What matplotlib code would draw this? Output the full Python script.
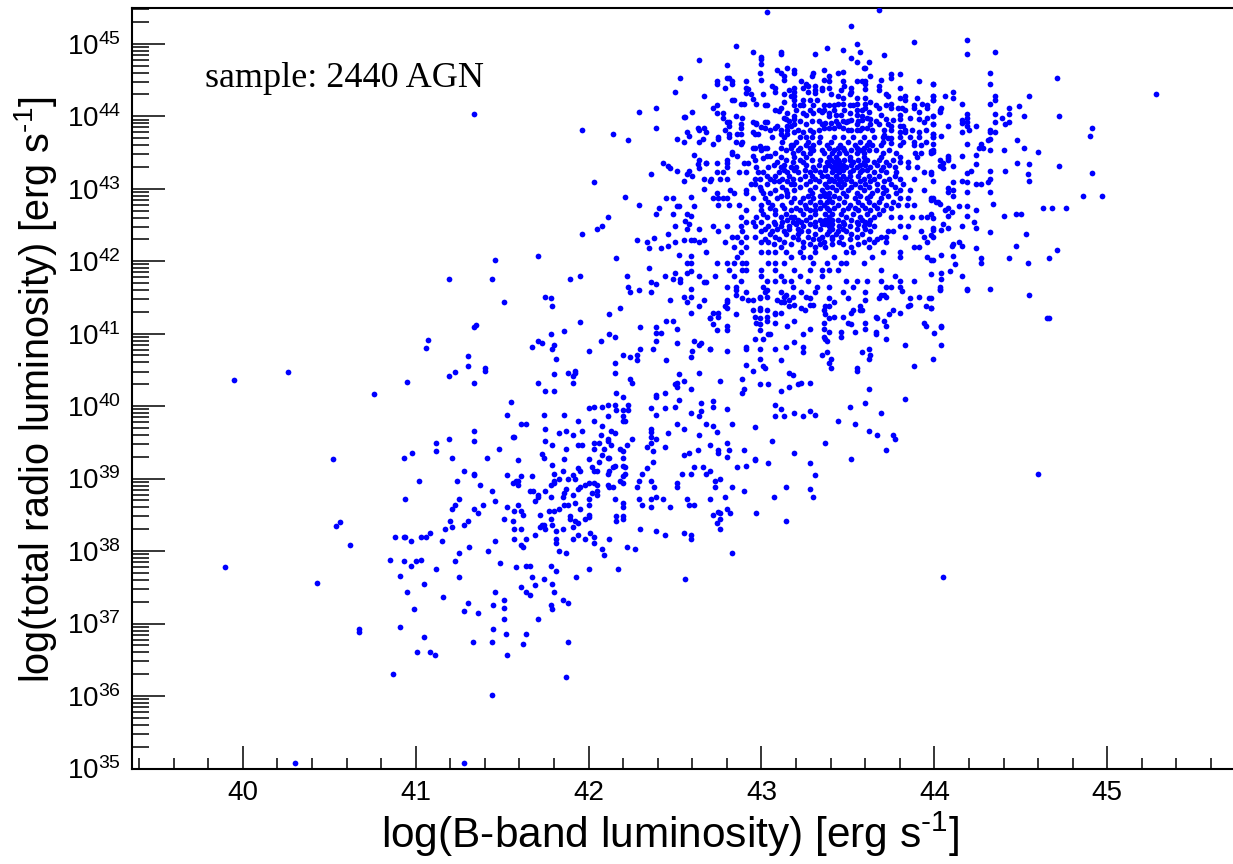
import matplotlib
matplotlib.use("Agg")
import matplotlib.pyplot as plt
from matplotlib.ticker import FixedLocator, NullFormatter, LogLocator

plt.rcParams['font.family'] = ['Liberation Sans', 'DejaVu Sans']
plt.rcParams['mathtext.fontset'] = 'custom'
plt.rcParams['mathtext.rm'] = 'Liberation Sans'
plt.rcParams['mathtext.default'] = 'rm'

# everything below is log10(L_B), log10(L_radio)
outliers = [(39.90,37.78),(39.95,40.36),(40.26,40.47),(40.76,40.17),(40.95,40.33),(40.30,35.07),(41.28,35.07),
            (40.43,37.56),(40.52,39.27),(40.54,38.34),(40.56,38.40),(40.62,38.08),(40.67,36.92),(40.67,36.88),
            (41.19,41.75),(41.07,40.91),(41.06,40.80),(41.19,40.41),(41.30,40.69),(41.30,40.55),(41.23,40.47),
            (42.56,37.61),(44.05,37.64),(44.60,39.07),(44.65,41.22),(45.28,44.30)]

low_mid = [(41.55,40.05),(41.53,39.88),(41.74,39.88),(41.86,39.88),(41.94,39.80),(42.0,39.97),(42.03,39.99),(42.08,39.99),
           (42.11,40.02),(42.15,40.02),(42.23,40.02),(42.36,39.97),(42.44,39.97),(42.50,39.99),(42.39,39.88),(42.16,39.94),
           (42.23,39.94),(42.2,39.94),(42.2,39.87),(42.2,39.80),(42.21,39.80),(42.11,39.86),(42.03,39.80),(41.61,39.75),
           (41.64,39.75),(41.75,39.69),(41.83,39.63),(41.87,39.66),(41.91,39.60),(41.96,39.66),(42.08,39.72),(42.07,39.60),
           (42.13,39.66),(42.15,39.63),(42.36,39.69),(42.36,39.64),(42.36,39.58),(42.46,39.63),(42.51,39.75),(41.34,39.66),
           (41.34,39.52),(41.19,39.55),(41.12,39.49),(41.12,39.38),(40.98,39.36),(40.93,39.29),(41.21,39.29),(41.41,39.29),
           (41.48,39.41),(41.56,39.58),(41.57,39.58),(41.75,39.52),(41.79,39.47),(41.94,39.47),(41.96,39.47),(42.03,39.49),
           (42.06,39.49),(42.11,39.55),(42.11,39.52),(42.13,39.47),(42.25,39.55),(42.22,39.47),(42.36,39.49),(42.34,39.44),
           (42.39,39.55),(42.44,39.44),(42.37,39.38),(41.87,39.41),(42.03,39.41),(42.09,39.41),(42.18,39.41),(42.2,39.38),
           (41.73,39.34),(41.74,39.29),(41.86,39.27),(42.0,39.27),(42.08,39.33),(42.11,39.29),(42.12,39.29),(42.2,39.29),
           (41.59,39.25),(42.06,39.23),(42.37,39.23),(41.79,39.19),(42.02,39.16),(42.15,39.18),(42.14,39.16),(42.2,39.18),
           (42.21,39.16),(41.94,39.14),(41.95,39.11),(41.85,39.11),(42.03,39.11),(42.05,39.11),(42.12,39.11),(42.11,39.07),
           (41.80,39.07),(42.21,39.07),(42.31,39.07),(42.34,39.14),(41.28,39.11),(41.34,39.07),(41.34,39.05),(41.53,39.05),
           (41.61,39.03),(41.67,39.03),(41.91,39.05),(41.92,38.99),(41.83,38.99),(41.88,38.99),(42.2,39.03),(41.02,38.97),
           (41.24,38.97),(41.56,38.94),(41.58,38.97),(41.59,38.97),(41.59,38.91),(41.80,38.97),(41.80,38.94),(41.78,38.91),
           (42.0,38.94),(42.03,38.94),(42.05,38.91),(41.98,38.91),(41.95,38.89),(41.94,38.86),(42.11,38.91),(42.12,38.89),
           (42.14,38.89),(42.18,38.97),(42.2,38.94),(42.29,38.97),(42.28,38.89),(42.36,38.97),(42.38,38.89),(42.51,38.94),
           (42.51,38.89),(41.37,38.91),(41.44,38.83),(41.66,38.83),(41.68,38.83),(41.75,38.83),(41.87,38.86),(41.86,38.80),
           (42.02,38.80),(42.05,38.83),(42.05,38.78),(41.91,38.78),(41.71,38.78),(41.71,38.74),(41.78,38.74),(41.85,38.74),
           (42.0,38.72),(42.15,38.72),(42.29,38.72),(42.36,38.72),(42.39,38.74),(42.43,38.72),(40.94,38.72),(41.25,38.72),
           (41.46,38.69),(41.69,38.69),(41.92,38.66),(42.0,38.63),(42.2,38.66),(42.2,38.61),(42.31,38.63),(42.36,38.61),
           (42.47,38.61),(41.23,38.63),(41.21,38.58),(41.39,38.63),(41.34,38.58),(41.36,38.52),(41.53,38.61),(41.59,38.63),
           (41.57,38.55),(41.61,38.55),(41.62,38.50),(41.77,38.55),(41.80,38.55),(41.83,38.58),(41.86,38.63),(41.88,38.63),
           (41.95,38.58),(41.72,38.50),(41.89,38.48),(41.89,38.44),(41.92,38.42),(41.94,38.39),(41.98,38.44),(42.0,38.50),
           (42.0,38.47),(42.16,38.48),(42.16,38.42),(42.2,38.48),(42.2,38.44),(41.51,38.44),(41.56,38.42),(41.78,38.44),
           (41.79,38.36),(41.20,38.42),(41.30,38.42),(41.28,38.36),(41.21,38.33),(41.17,38.30),(41.57,38.30),(41.61,38.30),
           (41.72,38.33),(41.73,38.36),(41.74,38.36),(41.75,38.30),(41.81,38.28),(41.85,38.30),(41.91,38.33),(42.30,38.30),
           (42.39,38.28),(42.44,38.22),(42.01,38.25),(41.94,38.22),(42.03,38.19),(41.69,38.22),(41.57,38.17),(41.64,38.17),
           (41.81,38.17),(41.81,38.11),(41.91,38.17),(41.98,38.17),(42.12,38.17),(42.03,38.11),(40.88,38.19),(40.93,38.19),
           (40.94,38.19),(40.97,38.14),(41.03,38.19),(41.06,38.19),(41.08,38.25),(41.15,38.14),(41.46,38.14),(41.31,38.06),
           (41.61,38.08),(41.62,38.06),(41.25,37.97),(41.42,38.0),(41.83,38.0),(41.87,37.97),(42.08,38.03),(42.09,37.95),
           (42.22,38.06),(42.27,38.03),(40.85,37.88),(40.93,37.86),(40.97,37.80),(41.0,37.86),(41.03,37.88),(41.23,37.86),
           (41.49,37.83),(41.58,37.78),(41.64,37.80),(41.66,37.80),(41.78,37.80),(41.12,37.75)]

bottom = [(41.81,37.72),(42.0,37.75),(42.17,37.75),(40.91,37.66),(41.25,37.64),(41.05,37.55),(41.67,37.64),(41.74,37.61),
          (41.79,37.55),(41.93,37.64),(41.69,37.53),(41.61,37.50),(40.95,37.44),(41.46,37.44),(41.64,37.44),(41.80,37.44),
          (41.66,37.39),(41.16,37.36),(41.51,37.33),(41.85,37.33),(41.30,37.28),(41.88,37.28),(41.45,37.25),(41.51,37.22),
          (41.78,37.25),(41.79,37.20),(40.99,37.20),(41.28,37.17),(41.36,37.14),(41.51,37.06),(41.71,37.06),(40.91,36.95),
          (41.45,36.92),(41.52,36.86),(41.64,36.86),(41.05,36.81),(41.33,36.75),(41.44,36.75),(41.62,36.72),(41.88,36.75),
          (41.01,36.61),(41.08,36.61),(41.11,36.56),(41.53,36.56),(40.87,36.31),(41.87,36.26),(41.44,36.01)]

bridge = [(41.96,42.37),(42.28,42.29),(42.34,42.26),(42.38,42.32),(42.46,42.37),(42.35,42.18),(42.42,42.18),(42.46,42.21),
          (42.50,42.26),(42.55,42.29),(42.59,42.29),(42.61,42.29),(42.64,42.26),(42.67,42.29),(42.68,42.12),(42.52,42.09),
          (42.59,42.07),(42.57,41.98),(42.59,41.98),(41.46,42.02),(41.71,42.07),(42.16,42.04),(42.35,41.90),(42.59,41.87),
          (42.57,41.84),(42.50,41.84),(42.22,41.79),(42.44,41.79),(42.64,41.79),(41.44,41.76),(41.89,41.76),(41.95,41.79),
          (42.49,41.76),(42.53,41.76),(42.53,41.71),(42.36,41.71),(42.39,41.68),(42.67,41.71),(42.68,41.71),(42.23,41.65),
          (42.59,41.62),(42.24,41.57),(42.29,41.60),(42.36,41.57),(41.75,41.51),(41.78,41.49),(42.55,41.51),(42.59,41.51),
          (42.47,41.46),(42.67,41.46),(42.57,41.43),(41.51,41.43),(41.79,41.38),(42.64,41.38),(42.18,41.35),(42.59,41.29),
          (42.12,41.27),(42.45,41.18),(42.49,41.18),(42.70,41.21),(41.95,41.16),(41.34,41.09),(41.35,41.12),(42.30,41.09),
          (42.39,41.09),(42.51,41.07),(41.86,41.04),(42.39,41.01),(42.42,41.01),(41.78,40.99),(42.12,40.99),(42.15,40.96),
          (41.71,40.90),(41.73,40.87),(42.07,40.90),(42.39,40.90),(42.51,40.87),(42.61,40.90),(42.65,40.87),(42.64,40.85),
          (41.67,40.82),(41.80,40.85),(41.79,40.79),(42.0,40.76),(42.30,40.79),(42.37,40.79),(42.60,40.76),(42.70,40.79),
          (42.20,40.71),(42.28,40.71),(42.24,40.68),(42.59,40.68),(41.81,40.65),(42.28,40.63),(42.45,40.63),(42.15,40.60),
          (41.40,40.52),(41.40,40.49),(41.88,40.46),(41.92,40.49),(41.92,40.46),(41.91,40.41),(41.80,40.44),(42.15,40.46),
          (42.52,40.44),(42.64,40.46),(42.24,40.38),(42.25,40.32),(41.34,40.32),(41.71,40.32),(41.91,40.32),(42.55,40.35),
          (42.50,40.30),(42.51,40.32),(42.51,40.27),(42.59,40.24),(41.75,40.21),(41.80,40.21),(42.16,40.18),(42.20,40.13),
          (42.39,40.16),(42.39,40.13),(42.44,40.18),(42.52,40.09)]

upper_left = [(41.34,44.03),(42.64,44.78),(42.53,44.53),(42.50,44.33),(42.67,44.28),(42.29,44.06),(42.39,44.11),(42.60,44.06),
              (42.55,43.99),(42.56,43.99),(41.96,43.81),(42.39,43.84),(42.14,43.75),(42.23,43.67),(42.63,43.84),(42.64,43.81),
              (42.67,43.84),(42.68,43.78),(42.57,43.78),(42.58,43.73),(42.51,43.69),(42.55,43.64),(42.66,43.69),(42.64,43.64),
              (42.61,43.47),(42.64,43.39),(42.63,43.34),(42.64,43.29),(42.68,43.36),(42.43,43.36),(42.46,43.31),(42.47,43.29),
              (42.51,43.25),(42.58,43.25),(42.57,43.20),(42.36,43.20),(42.60,43.17),(42.03,43.09),(42.55,43.11),(42.67,43.14),
              (42.70,43.11),(42.67,43.0),(42.21,42.89),(42.45,42.87),(42.49,42.87),(42.59,42.89),(42.29,42.78),(42.51,42.76),
              (42.52,42.76),(42.61,42.76),(42.41,42.73),(42.39,42.65),(42.49,42.65),(42.57,42.65),(42.59,42.62),(42.11,42.61),
              (42.56,42.56),(42.08,42.48),(42.05,42.45),(42.50,42.48),(42.58,42.51),(42.57,42.45),(42.64,42.45)]

mid = [(42.85,41.60),(42.85,41.54),(42.91,41.57),(42.89,41.49),(42.92,41.46),(42.95,41.46),(42.99,41.51),(42.99,41.49),
       (43.02,41.57),(43.03,41.60),(43.03,41.51),(43.11,41.57),(43.13,41.51),(43.14,41.54),(43.18,41.51),(43.23,41.57),
       (43.26,41.51),(43.28,41.49),(43.31,41.57),(43.09,41.46),(43.11,41.43),(43.13,41.43),(43.16,41.46),(43.19,41.40),
       (43.16,41.38),(43.23,41.35),(43.25,41.32),(43.28,41.40),(43.30,41.40),(43.39,41.49),(43.47,41.57),(43.50,41.49),
       (43.60,41.57),(43.60,41.46),(43.68,41.49),(43.69,41.54),(43.71,41.54),(43.72,41.51),(43.81,41.59),(43.86,41.49),
       (43.91,41.51),(43.97,41.49),(44.03,41.60),(44.19,41.60),(42.80,41.46),(42.80,41.43),(42.79,41.38),(42.80,41.35),
       (42.72,41.29),(42.75,41.29),(42.75,41.23),(42.70,41.21),(42.72,41.13),(42.74,41.05),(42.80,41.10),(42.80,41.05),
       (42.85,41.27),(42.95,41.32),(42.99,41.35),(42.99,41.32),(43.03,41.32),(42.96,41.23),(42.99,41.21),(43.03,41.23),
       (43.03,41.18),(43.08,41.29),(43.08,41.27),(43.11,41.29),(42.97,41.15),(42.99,41.13),(43.08,41.15),(43.19,41.18),
       (43.15,41.10),(42.99,41.05),(43.28,41.07),(43.04,40.99),(43.05,40.99),(43.24,40.99),(42.96,40.93),(43.01,40.93),
       (43.19,40.88),(42.91,40.82),(42.91,40.79),(42.99,40.79),(43.08,40.79),(43.14,40.82),(43.24,40.82),(43.24,40.74),
       (42.80,40.76),(42.70,40.79),(43.36,41.32),(43.37,41.38),(43.39,41.38),(43.42,41.43),(43.37,41.27),(43.39,41.21),
       (43.42,41.23),(43.47,41.23),(43.52,41.29),(43.53,41.32),(43.57,41.32),(43.58,41.32),(43.57,41.38),(43.36,41.15),
       (43.36,41.07),(43.50,41.15),(43.52,41.13),(43.60,41.15),(43.60,41.07),(43.54,41.02),(43.39,41.02),(43.46,41.02),
       (43.46,40.96),(43.36,40.96),(43.37,40.93),(43.38,40.90),(43.66,41.23),(43.67,41.21),(43.71,41.18),(43.72,41.10),
       (43.66,41.02),(43.66,40.99),(43.72,40.93),(43.74,41.27),(43.76,41.32),(43.80,41.29),(43.94,41.15),(43.95,41.10),
       (44.04,41.10),(44.0,41.01),(44.04,40.85),(43.85,41.38),(43.86,41.40),(43.95,41.38),(43.98,41.35),(43.83,40.85),
       (43.62,40.79),(43.63,40.71),(43.62,40.65),(43.58,40.74),(43.35,40.71),(43.38,40.74),(43.40,40.65),(43.39,40.60),
       (43.40,40.52),(43.55,40.52),(43.55,40.49),(43.88,40.55),(43.99,40.65),(42.91,40.57),(42.95,40.49),(42.99,40.65),
       (43.01,40.55),(43.02,40.52),(43.11,40.63),(42.76,40.35),(42.89,40.37),(43.16,40.46),(43.18,40.43),(42.99,40.30),
       (43.04,40.30),(43.16,40.26),(43.21,40.30),(43.23,40.32),(43.28,40.32),(43.11,40.21),(42.90,40.24),(42.89,40.18),
       (43.62,40.24),(43.83,40.10),(42.72,40.07),(42.72,39.99),(42.65,40.04),(42.65,39.93),(42.59,39.91),(42.64,39.86),
       (42.80,39.96),(43.08,40.02),(43.11,39.96),(43.08,39.86),(43.13,39.86),(43.19,39.91),(43.24,39.86),(43.28,39.93),
       (43.31,39.88),(43.51,39.99),(43.60,40.04),(43.69,39.91),(43.44,39.80),(43.54,39.75),(43.62,39.66),(43.67,39.60),
       (43.76,39.60),(43.77,39.55),(42.68,39.75),(42.72,39.72),(42.74,39.64),(42.55,39.68),(42.83,39.75),(42.96,39.71),
       (42.64,39.60),(42.80,39.49),(42.70,39.47),(43.06,39.52),(43.37,39.49),(43.72,39.40),(42.75,39.40),(42.75,39.35),
       (42.81,39.40),(42.90,39.40),(42.80,39.30),(42.63,39.40),(42.58,39.35),(42.55,39.33),(43.19,39.35),(42.96,39.27),
       (43.52,39.27)]

low_right = [(42.61,39.16),(42.66,39.16),(42.54,39.07),(42.59,39.07),(42.68,39.07),(42.70,39.11),(42.86,39.16),(42.91,39.18),
             (42.96,39.25),(43.04,39.22),(43.28,39.22),(43.31,39.05),(42.73,38.96),(42.76,39.0),(42.73,38.89),(42.83,38.89),
             (42.90,38.83),(43.14,38.89),(43.28,38.85),(42.57,38.72),(42.58,38.63),(42.61,38.63),(42.70,38.72),(42.79,38.74),
             (43.07,38.74),(43.30,38.74),(42.80,38.58),(42.75,38.54),(42.76,38.52),(42.82,38.52),(42.72,38.50),(42.97,38.52),
             (42.76,38.44),(42.74,38.39),(42.76,38.30),(43.14,38.41),(42.55,38.25),(42.59,38.22),(42.59,38.16),(42.83,37.97)]

right = [(44.19,45.05),(44.19,44.86),(44.35,44.89),(44.32,44.59),(44.71,44.53),(43.99,44.44),(44.32,44.44),(44.11,44.33),
         (44.11,44.25),(44.06,44.28),(43.99,44.28),(43.99,44.22),(44.35,44.28),(44.35,44.22),(44.55,44.28),(44.16,44.17),
         (44.32,44.17),(44.04,44.11),(44.03,44.06),(44.49,44.14),(44.43,44.11),(43.99,44.0),(44.35,44.03),(44.43,44.03),
         (44.39,43.97),(44.52,44.0),(44.72,44.0),(44.19,44.03),(44.19,43.97),(44.19,43.92),(44.19,43.86),(44.16,43.95),
         (44.16,43.91),(44.24,43.86),(44.20,43.81),(44.08,43.86),(43.99,43.89),(44.35,43.92),(44.43,43.92),(44.41,43.89),
         (44.32,43.81),(44.32,43.78),(44.35,43.78),(44.16,43.78),(44.91,43.84),(44.90,43.73),(43.99,43.75),(43.99,43.72),
         (44.04,43.73),(44.32,43.69),(44.31,43.67),(44.48,43.67),(44.19,43.62),(43.99,43.62),(44.27,43.62),(44.26,43.56),
         (44.28,43.56),(44.32,43.53),(44.40,43.53),(44.52,43.56),(44.60,43.51),(43.99,43.53),(43.99,43.50),(43.98,43.52),
         (44.24,43.47),(44.16,43.45),(44.08,43.45),(44.08,43.42),(44.08,43.39),(44.03,43.39),(44.05,43.36),(44.03,43.31),
         (44.05,43.29),(44.11,43.31),(44.24,43.34),(44.48,43.36),(44.55,43.34),(44.72,43.31),(44.91,43.22),(44.21,43.25),
         (44.19,43.22),(44.32,43.25),(44.41,43.25),(44.54,43.20),(44.55,43.11),(43.98,43.20),(43.99,43.11),(44.11,43.09),
         (44.16,43.11),(44.19,43.09),(44.24,43.06),(44.27,43.06),(44.31,43.09),(44.32,43.14),(44.08,43.01),(44.08,42.95),
         (44.11,42.98),(44.11,42.90),(44.19,42.95),(44.32,42.95),(44.86,42.90),(44.97,42.90),(43.99,42.87),(43.98,42.85),
         (44.01,42.82),(44.02,42.81),(44.03,42.79),(44.14,42.76),(44.19,42.76),(44.34,42.79),(44.63,42.73),(44.68,42.73),
         (44.76,42.73),(44.06,42.70),(44.08,42.73),(44.08,42.62),(44.10,42.68),(44.24,42.70),(44.19,42.62),(44.23,42.54),
         (44.40,42.62),(44.47,42.65),(44.50,42.65),(43.98,42.65),(43.99,42.59),(44.05,42.51),(44.04,42.43),(44.08,42.46),
         (43.99,42.46),(43.99,42.43),(43.98,42.36),(43.99,42.34),(44.16,42.48),(44.24,42.46),(44.32,42.40),(44.53,42.37),
         (44.14,42.26),(44.10,42.21),(44.11,42.23),(44.16,42.21),(44.24,42.18),(44.47,42.21),(44.71,42.15),(44.04,42.09),
         (44.11,42.07),(43.99,42.02),(43.98,42.02),(44.27,42.04),(44.27,41.98),(44.43,42.04),(44.54,41.98),(44.66,42.04),
         (44.12,41.96),(44.09,41.87),(44.04,41.84),(44.04,41.76),(43.98,41.82),(44.16,41.79),(44.03,41.65),(44.03,41.62),
         (44.19,41.62),(44.32,41.62),(44.55,41.54),(43.98,41.49),(43.98,41.35),(44.66,41.21),(44.04,41.09)]

top_cloud = [(43.03,45.44),(43.68,45.47),(43.52,45.25),(43.55,45.0),(43.88,45.03),(42.85,44.97),(42.95,44.89),(43.0,44.82),
             (43.0,44.79),(43.11,44.89),(43.11,44.86),(43.31,44.86),(43.38,44.94),(43.47,44.92),(43.57,44.89),(43.52,44.81),
             (43.55,44.75),(43.62,44.75),(43.71,44.84),(43.59,44.67),(43.60,44.67),(42.80,44.70),(43.0,44.72),(43.09,44.64),
             (43.15,44.67),(43.19,44.64),(43.19,44.59),(43.11,44.59),(43.13,44.55),(43.13,44.50),(42.99,44.59),(43.0,44.50),
             (42.91,44.48),(42.80,44.53),(42.81,44.53),(42.74,44.48),(42.74,44.44),(42.83,44.48),(42.83,44.44),(42.79,44.39),
             (42.91,44.39),(42.92,44.38),(42.91,44.32),(42.94,44.30),(42.95,44.24),(43.01,44.31),(42.83,44.22),(42.84,44.22),
             (42.88,44.17),(42.90,44.17),(42.97,44.17),(43.02,44.15),(43.03,44.15),(42.74,44.15),(42.72,44.11),(42.74,44.04),
             (42.78,44.04),(42.78,43.98),(42.80,43.92),(42.81,43.92),(42.85,44.0),(42.89,43.97),(42.79,43.81),(42.81,43.87),
             (42.88,43.89),(42.88,43.84),(42.95,43.92),(42.97,43.91),(42.97,43.89),(43.02,43.92),(43.03,43.92),(43.0,43.85),
             (43.02,43.84),(42.95,43.78),(42.96,43.75),(42.98,43.75),(42.81,43.75),(42.81,43.72),(42.86,43.75),(42.88,43.75),
             (42.75,43.72),(42.75,43.69),(42.72,43.62),(42.85,43.64),(42.88,43.62),(42.89,43.64),(42.95,43.56),(42.96,43.56),
             (42.99,43.59),(43.0,43.56),(43.02,43.56),(43.03,43.56),(43.0,43.53),(42.83,43.50),(42.83,43.48),(42.86,43.45),
             (42.95,43.45),(42.96,43.40),(43.01,43.42),(43.03,43.45),(43.05,43.45),(42.74,43.36),(42.80,43.40),(42.80,43.36),
             (42.68,43.36),(42.90,43.36),(42.92,43.36),(43.36,44.64),(43.30,44.59),(43.29,44.55),(43.39,44.55),(43.39,44.48),
             (43.36,44.50),(43.44,44.59),(43.47,44.61),(43.23,44.48),(43.26,44.44),(43.27,44.42),(43.24,44.39),(43.31,44.42),
             (43.31,44.36),(43.31,44.32),(43.35,44.39),(43.35,44.36),(43.39,44.39),(43.27,44.33),(43.47,44.48),(43.48,44.42),
             (43.46,44.36),(43.52,44.39),(43.55,44.48),(43.58,44.48),(43.60,44.48),(43.60,44.44),(43.60,44.37),(43.40,44.31),
             (43.44,44.28),(43.47,44.25),(43.51,44.31),(43.52,44.33),(43.68,44.42),(43.68,44.36),(43.69,44.50),(43.63,44.55),
             (43.75,44.58),(43.75,44.53),(43.80,44.58),(43.80,44.39),(43.91,44.48),(43.99,44.44),(43.72,44.31),(43.73,44.28),
             (43.80,44.25),(43.83,44.28),(43.83,44.22),(43.90,44.25),(43.99,44.28),(43.99,44.22),(43.55,44.25),(43.60,44.25),
             (43.63,44.20),(43.55,44.17),(43.60,44.17),(43.19,44.39),(43.16,44.36),(43.19,44.33),(43.13,44.31),(43.19,44.28),
             (43.17,44.28),(43.08,44.39),(43.08,44.33),(43.06,44.42),(43.13,44.19),(43.19,44.22),(43.19,44.15),(43.22,44.15),
             (43.24,44.22),(43.24,44.15),(43.28,44.22),(43.32,44.22),(43.30,44.15),(43.36,44.15),(43.39,44.15),(43.42,44.15),
             (43.44,44.17),(43.47,44.17),(43.51,44.15),(43.53,44.15),(43.66,44.15),(43.68,44.12),(43.72,44.15),(43.75,44.17),
             (43.75,44.12),(43.79,44.12),(43.81,44.12),(43.83,44.09),(43.88,44.15),(43.88,44.11),(43.93,44.17),(43.96,44.15),
             (43.96,44.11),(43.99,44.0),(44.03,44.09),(43.11,44.12),(43.08,44.09),(43.10,44.07),(43.15,44.04),(43.19,44.0),
             (43.13,43.98),(43.14,43.96),(43.19,43.96),(43.24,44.04),(43.26,44.01),(43.30,44.05),(43.35,44.06),(43.36,44.09),
             (43.39,44.04),(43.39,44.0),(43.43,44.02),(43.46,44.02),(43.51,44.04),(43.55,44.08),(43.60,44.11),(43.62,44.06),
             (43.55,44.02),(43.58,44.0),(43.61,43.98),(43.63,43.96),(43.63,43.89),(43.69,44.02),(43.72,43.96),(43.76,43.95),
             (43.80,44.02),(43.80,43.96),(43.86,43.98),(43.91,44.06),(43.91,43.96),(43.94,43.92),(43.99,43.89),(43.96,43.98),
             (43.09,43.87),(43.08,43.84),(43.15,43.87),(43.17,43.87),(43.19,43.89),(43.11,43.81),(43.26,43.89),(43.37,43.91),
             (43.35,43.89),(43.40,43.91),(43.44,43.89),(43.49,43.92),(43.52,43.95),(43.55,43.89),(43.58,43.95),(43.11,43.75),
             (43.15,43.75),(43.19,43.78),(43.24,43.78),(43.26,43.72),(43.30,43.78),(43.36,43.84),(43.39,43.84),(43.42,43.84),
             (43.45,43.87),(43.47,43.84),(43.52,43.81),(43.55,43.81),(43.58,43.84),(43.61,43.84),(43.68,43.89),(43.73,43.89),
             (43.75,43.87),(43.80,43.87),(43.82,43.87),(43.83,43.81),(43.80,43.78),(43.80,43.72),(43.83,43.78),(43.91,43.78),
             (43.91,43.72),(43.95,43.81),(43.99,43.76),(43.99,43.72),(43.71,43.81),(43.71,43.74),(43.73,43.70),(43.75,43.70),
             (43.75,43.63)]

# dense core of the cloud, one row per radio luminosity
core_rows = {
    44.08: [43.20,43.28,43.33,43.42,43.48,43.58],
    43.93: [43.16,43.22,43.29,43.33,43.43,43.47,43.50,43.56,43.66],
    43.81: [43.05,43.15,43.21,43.28,43.33,43.50,43.57,43.64,43.75,43.87],
    43.72: [43.06,43.13,43.22,43.29,43.34,43.42,43.47,43.53,43.59,43.65,43.70,43.86],
    43.65: [43.12,43.20,43.27,43.33,43.40,43.50,43.57,43.62,43.70,43.82,43.88,43.95],
    43.60: [43.17,43.18,43.26,43.30,43.38,43.455,43.54,43.61,43.64,43.69,43.80,43.88,43.92],
    43.56: [43.11,43.17,43.22,43.28,43.39,43.44,43.47,43.55,43.59],
    43.53: [43.14,43.21,43.30,43.35,43.42,43.48,43.52,43.57,43.62,43.66,43.74],
    43.49: [43.08,43.18,43.24,43.28,43.36,43.41,43.45,43.49,43.55,43.59,43.70,43.78,43.89,43.92,43.98],
    43.44: [43.11,43.19,43.26,43.39,43.43,43.51,43.59,43.69,43.80,43.90],
    43.40: [43.14,43.22,43.29,43.34,43.40,43.44,43.48,43.51,43.56,43.61,43.68,43.76],
    43.37: [43.09,43.18,43.24,43.38,43.42,43.45,43.53,43.59,43.65,43.72,43.80,43.85],
    43.33: [43.07,43.13,43.26,43.33,43.39,43.43,43.47,43.52,43.57,43.60,43.67,43.74],
    43.30: [42.80,42.97,43.04,43.11,43.17,43.20,43.30,43.37,43.41,43.45,43.49,43.55,43.63,43.70,43.77,43.85,43.90],
    43.26: [43.13,43.19,43.25,43.31,43.37,43.43,43.47,43.53,43.58,43.61,43.69],
    43.23: [42.74,42.78,42.87,42.91,42.98,43.01,43.10,43.15,43.21,43.28,43.34,43.41,43.45,43.51,43.57,43.65,43.72,43.78,43.94,43.98],
    43.18: [43.03,43.08,43.16,43.25,43.29,43.35,43.38,43.43,43.47,43.51,43.56,43.62,43.68,43.77],
    43.14: [42.71,42.76,42.80,42.96,42.99,43.05,43.12,43.18,43.22,43.31,43.40,43.45,43.49,43.59,43.65,43.74,43.80,43.88],
    43.10: [43.07,43.10,43.15,43.28,43.33,43.39,43.42,43.46,43.52,43.57,43.63,43.71],
    43.07: [42.94,42.96,43.03,43.17,43.19,43.26,43.37,43.44,43.48,43.54,43.60,43.67,43.75,43.82],
    43.02: [42.99,43.12,43.22,43.31,43.38,43.41,43.46,43.52,43.57,43.62,43.70,43.77],
    42.98: [42.82,42.91,43.0,43.08,43.14,43.19,43.28,43.35,43.43,43.50,43.59,43.67,43.72,43.80,43.86,43.94],
    42.94: [42.74,42.84,42.91,43.01,43.05,43.15,43.29,43.36,43.39,43.47,43.55,43.64,43.70,43.78],
    42.90: [43.11,43.15,43.27,43.34,43.37,43.42,43.49,43.57,43.63,43.73],
    42.87: [42.72,42.75,42.78,42.80,42.95,43.02,43.09,43.19,43.24,43.30,43.39,43.45,43.54,43.61,43.69,43.80,43.85,43.98],
    42.82: [43.04,43.17,43.22,43.28,43.34,43.38,43.41,43.48,43.56,43.62,43.68,43.76],
    42.77: [42.75,42.81,42.87,43.0,43.06,43.12,43.25,43.31,43.36,43.44,43.51,43.58,43.65,43.72,43.79,43.84,43.88],
    42.73: [43.05,43.13,43.20,43.26,43.34,43.38,43.42,43.50,43.54,43.60,43.67,43.75],
    42.70: [42.91,43.0,43.08,43.17,43.22,43.28,43.31,43.39,43.47,43.56,43.63,43.70],
    42.65: [43.01,43.08,43.14,43.24,43.31,43.37,43.41,43.46,43.53,43.61,43.68],
    42.61: [42.88,42.97,43.03,43.11,43.17,43.19,43.28,43.39,43.49,43.57,43.65,43.75,43.80,43.87,43.92,43.96],
    42.57: [43.15,43.21,43.26,43.34,43.37,43.41,43.44,43.52,43.58,43.63],
    42.54: [42.91,42.95,43.0,43.07,43.12,43.18,43.23,43.31,43.39,43.47,43.55,43.60],
    42.51: [43.08,43.20,43.28,43.35,43.37,43.41,43.48,43.56,43.62],
    42.48: [42.72,42.80,42.88,42.96,43.04,43.11,43.16,43.24,43.31,43.39,43.45,43.51,43.59,43.65,43.80,43.85],
    42.44: [43.02,43.09,43.16,43.21,43.34,43.41,43.47,43.55,43.60],
    42.41: [42.75,42.89,43.0,43.06,43.13,43.23,43.27,43.39,43.44,43.49,43.63,43.73,43.76,43.92],
    42.37: [43.05,43.14,43.21,43.31,43.38,43.43,43.52,43.58],
    42.34: [42.83,42.86,42.91,42.96,43.08,43.18,43.27,43.35,43.41,43.46,43.55,43.69,43.72,43.83,43.94],
    42.30: [43.02,43.10,43.21,43.30,43.33,43.41,43.51,43.62,43.67],
    42.27: [42.79,42.88,43.0,43.04,43.13,43.24,43.36,43.45,43.59,43.65,43.72,43.96],
    42.23: [43.07,43.17,43.28,43.34,43.41,43.47,43.56],
    42.20: [42.84,42.91,43.11,43.24,43.31,43.37,43.52,43.62,43.88,43.91],
    42.13: [42.88,43.0,43.04,43.08,43.14,43.22,43.31,43.49,43.53,43.70,43.80],
    42.06: [42.86,43.17,43.24,43.28,43.42,43.64,43.80,43.96],
    41.97: [42.74,42.80,42.84,42.89,42.91,43.04,43.08,43.13,43.30,43.38,43.46,43.49,43.59],
    41.88: [42.81,42.89,42.91,43.0,43.08,43.19,43.28,43.35,43.39,43.44,43.69],
    41.79: [42.73,42.84,43.0,43.11,43.22,43.35,43.77],
    41.72: [42.88,43.03,43.08,43.13,43.17,43.27,43.49,43.55,43.61,43.69,43.80,43.88],
    41.65: [42.80,42.85,43.01,43.18,43.32,43.39,43.53,43.72,43.75,43.80],
}

x_ticks = [40, 41, 42, 43, 44, 45]
y_decades = list(range(35, 46))

log_lb, log_lr = [], []
for group in [outliers, low_mid, bottom, bridge, upper_left, mid, low_right, right, top_cloud]:
    for a, b in group:
        log_lb.append(a)
        log_lr.append(b)
for row_y, row_x in core_rows.items():
    for a in row_x:
        log_lb.append(a)
        log_lr.append(row_y)

fig = plt.figure(figsize=(12.33, 8.64), dpi=100)
W, H = 1233.0, 864.0
ax = fig.add_axes([132.3 / W, 1 - 768.5 / H, 1 - 132.3 / W, (768.5 - 8.3) / H])

ax.scatter(log_lb, [10.0 ** v for v in log_lr], s=17, color='#0000ff', linewidths=0, zorder=3)

ax.set_yscale('log')
ax.set_xlim(39.361, 45.727)
ax.set_ylim(1e35, 10 ** 45.489)

ax.set_xticks(x_ticks)
ax.xaxis.set_minor_locator(FixedLocator([39.4 + 0.2 * i for i in range(32)]))
ax.set_yticks([10.0 ** d for d in y_decades])
ax.set_yticklabels([r'$10^{%d}$' % d for d in y_decades])
ax.yaxis.set_minor_locator(LogLocator(base=10, subs=range(2, 10), numticks=30))
ax.yaxis.set_minor_formatter(NullFormatter())

ax.tick_params(axis='x', which='major', direction='in', length=16.5, width=1.1, labelsize=20, pad=8)
ax.tick_params(axis='x', which='minor', direction='in', length=8, width=1.1)
ax.tick_params(axis='y', which='major', direction='in', length=24, width=1.1, labelsize=20, pad=8)
ax.tick_params(axis='y', which='minor', direction='in', length=12, width=1.1)

ax.spines['right'].set_visible(False)
for side in ['left', 'bottom', 'top']:
    ax.spines[side].set_linewidth(1.5)

fig.text(670 / W, 1 - 848 / H, 'log(B-band luminosity) [erg s$^{\u20101}$]', fontsize=30.5, ha='center', va='baseline')
fig.text(36 / W, 1 - 390 / H, 'log(total radio luminosity) [erg s$^{\u20101}$]', fontsize=28.5, ha='center', va='center',
         rotation=90)
fig.text(205 / W, 1 - 87 / H, 'sample: 2440 AGN', fontsize=26, family='Liberation Serif', ha='left', va='baseline')

fig.savefig('out.png', dpi=100)
